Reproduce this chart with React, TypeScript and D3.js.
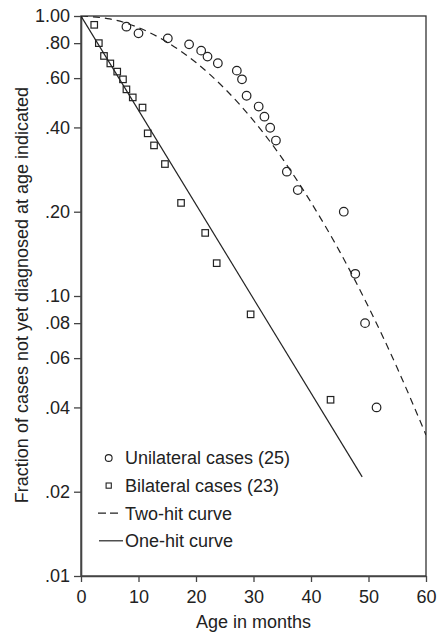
import React, { useEffect, useRef } from 'react';
import * as d3 from 'd3';

// age in months, fraction not yet diagnosed
const unilateralAge = [7.9, 10.0, 15.1, 18.8, 20.9, 22.0, 23.8, 27.1, 28.0, 28.8, 30.9, 31.9, 32.9, 33.9, 35.8, 37.7, 45.7, 47.7, 49.4, 51.4];
const unilateralFrac = [0.916, 0.867, 0.832, 0.792, 0.752, 0.716, 0.678, 0.638, 0.594, 0.519, 0.475, 0.437, 0.399, 0.359, 0.278, 0.239, 0.2, 0.12, 0.08, 0.04];

const bilateralAge = [2.3, 3.1, 4.0, 5.1, 6.3, 7.3, 7.9, 9.0, 10.7, 11.6, 12.7, 14.6, 17.4, 21.6, 23.6, 29.5, 43.4];
const bilateralFrac = [0.93, 0.8, 0.72, 0.677, 0.633, 0.594, 0.547, 0.512, 0.471, 0.381, 0.345, 0.296, 0.215, 0.168, 0.131, 0.086, 0.0426];

const twoHitAge = [0, 5, 10, 15, 20, 25, 30, 35, 40, 45, 50, 55, 60];
const twoHitFrac = [1.0, 0.976, 0.909, 0.806, 0.682, 0.55, 0.423, 0.31, 0.216, 0.144, 0.0914, 0.0553, 0.0319];

const oneHitAge = [0, 48.9];
const oneHitFrac = [1.0, 0.0226];

const yTicks = [1, 0.8, 0.6, 0.4, 0.2, 0.1, 0.08, 0.06, 0.04, 0.02, 0.01];
const yTickLabels = ['1.00', '.80', '.60', '.40', '.20', '.10', '.08', '.06', '.04', '.02', '.01'];
const xTicks = [0, 10, 20, 30, 40, 50, 60];

const legendLabels = ['Unilateral cases (25)', 'Bilateral cases (23)', 'Two-hit curve', 'One-hit curve'];

export default function App() {
  const svgRef = useRef<SVGSVGElement>(null);

  useEffect(() => {
    const w = 437;
    const h = 635;
    const left = 81, right = 426, top = 16, bottom = 576;
    const ink = '#222';
    const font = '"Liberation Sans", Arial, Helvetica, sans-serif';

    const svg = d3.select(svgRef.current)
      .attr('width', w)
      .attr('height', h)
      .style('font-family', font);
    svg.selectAll('*').remove();

    const x = d3.scaleLinear().domain([0, 60]).range([left, right]);
    const y = d3.scaleLog().domain([0.01, 1]).range([bottom, top]);

    svg.append('defs').append('clipPath').attr('id', 'plot')
      .append('rect').attr('x', left).attr('y', top).attr('width', right - left).attr('height', bottom - top);

    // frame
    svg.append('rect')
      .attr('x', left).attr('y', top)
      .attr('width', right - left).attr('height', bottom - top)
      .attr('fill', 'none').attr('stroke', '#333').attr('stroke-width', 1.3);

    const yAxis = d3.axisLeft(y)
      .tickValues(yTicks)
      .tickFormat((d, i) => yTickLabels[i])
      .tickSize(7).tickSizeOuter(0).tickPadding(4);
    const gy = svg.append('g').attr('transform', `translate(${left},0)`).call(yAxis);

    const xAxis = d3.axisBottom(x)
      .tickValues(xTicks)
      .tickFormat(d3.format('d'))
      .tickSize(6).tickSizeOuter(0).tickPadding(8);
    const gx = svg.append('g').attr('transform', `translate(0,${bottom})`).call(xAxis);

    [gx, gy].forEach(g => {
      g.select('.domain').attr('stroke', '#444').attr('stroke-width', 1.6);
      g.selectAll('.tick line').attr('stroke', '#444').attr('stroke-width', 1.3);
      g.selectAll('.tick text').attr('fill', ink).style('font-size', '18px').style('font-family', font);
    });

    svg.append('text')
      .attr('x', (left + right) / 2).attr('y', 628)
      .attr('text-anchor', 'middle').attr('fill', ink).style('font-size', '18px')
      .text('Age in months');

    svg.append('text')
      .attr('transform', `translate(28,${(top + bottom) / 2 - 1}) rotate(-90)`)
      .attr('text-anchor', 'middle').attr('fill', ink).style('font-size', '18px')
      .text('Fraction of cases not yet diagnosed at age indicated');

    const plot = svg.append('g').attr('clip-path', 'url(#plot)');

    const twoHit = d3.line<number>()
      .x((d, i) => x(twoHitAge[i]))
      .y(d => y(d))
      .curve(d3.curveNatural);
    plot.append('path')
      .attr('d', twoHit(twoHitFrac))
      .attr('fill', 'none').attr('stroke', ink).attr('stroke-width', 1.2)
      .attr('stroke-dasharray', '7,5');

    const oneHit = d3.line<number>()
      .x((d, i) => x(oneHitAge[i]))
      .y(d => y(d));
    plot.append('path')
      .attr('d', oneHit(oneHitFrac))
      .attr('fill', 'none').attr('stroke', ink).attr('stroke-width', 1.2);

    plot.selectAll('.uni')
      .data(unilateralFrac)
      .join('circle')
      .attr('cx', (d, i) => x(unilateralAge[i]))
      .attr('cy', d => y(d))
      .attr('r', 4.3)
      .attr('fill', 'none').attr('stroke', ink).attr('stroke-width', 1.2);

    const sq = 6.5;
    plot.selectAll('.bi')
      .data(bilateralFrac)
      .join('rect')
      .attr('x', (d, i) => x(bilateralAge[i]) - sq / 2)
      .attr('y', d => y(d) - sq / 2)
      .attr('width', sq).attr('height', sq)
      .attr('fill', 'none').attr('stroke', ink).attr('stroke-width', 1.2);

    // legend
    const lg = svg.append('g');
    const rowY = (i: number) => 458 + i * 27.6;
    lg.append('circle').attr('cx', 108.7).attr('cy', rowY(0)).attr('r', 3.4)
      .attr('fill', 'none').attr('stroke', ink).attr('stroke-width', 1.1);
    lg.append('rect').attr('x', 108.7 - 2.6).attr('y', rowY(1) - 2.6).attr('width', 5.2).attr('height', 5.2)
      .attr('fill', 'none').attr('stroke', ink).attr('stroke-width', 1.1);
    lg.append('line').attr('x1', 98).attr('x2', 118).attr('y1', rowY(2)).attr('y2', rowY(2))
      .attr('stroke', ink).attr('stroke-width', 1.2).attr('stroke-dasharray', '8,4');
    lg.append('line').attr('x1', 99).attr('x2', 123).attr('y1', rowY(3)).attr('y2', rowY(3))
      .attr('stroke', ink).attr('stroke-width', 1.2);
    lg.selectAll('.lt')
      .data(legendLabels)
      .join('text')
      .attr('x', 125)
      .attr('y', (d, i) => rowY(i) + 6.4)
      .attr('fill', ink).style('font-size', '18px')
      .text(d => d);
  }, []);

  return (
    <svg ref={svgRef} style={{ position: 'absolute', left: 0, top: 0, display: 'block' }}></svg>
  );
}
